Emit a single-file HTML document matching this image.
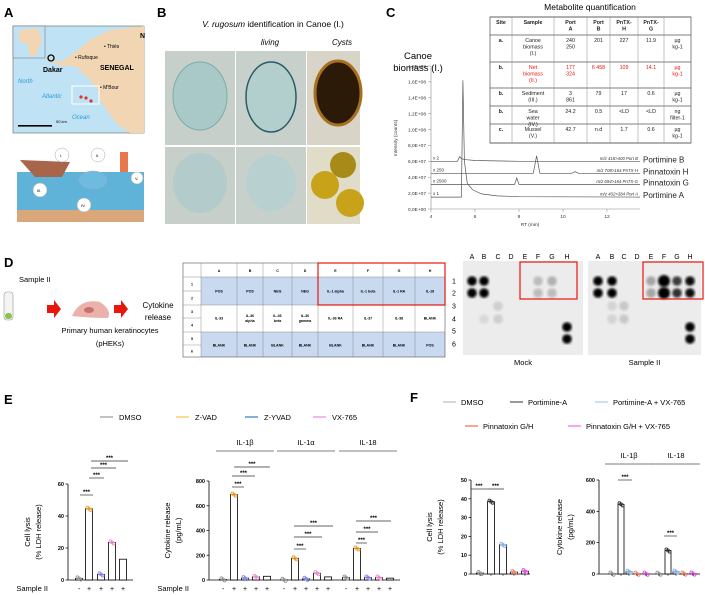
<!DOCTYPE html>
<html><head><meta charset="utf-8">
<style>
html,body{margin:0;padding:0;background:#fff;}
body{width:705px;height:595px;overflow:hidden;position:relative;font-family:"Liberation Sans",sans-serif;}
svg{position:absolute;left:0;top:0;}
text{font-family:"Liberation Sans",sans-serif;}
</style></head>
<body>
<svg id="fig" width="705" height="595" viewBox="0 0 705 595" xmlns="http://www.w3.org/2000/svg">
<g font-weight="bold" font-size="13" fill="#000">
<text x="4" y="17">A</text><text x="157" y="17">B</text><text x="386" y="17">C</text>
<text x="4" y="267">D</text><text x="4" y="404">E</text><text x="410" y="402">F</text>
</g>

<g>
<rect x="13" y="26" width="131" height="107" fill="#bfe3f5" stroke="#666" stroke-width="0.6"/>
<path d="M45,58 L60,62 L72,55 L90,40 L110,30 L144,26 L144,133 L130,133 L118,125 L110,115 L100,100 L98,90 L88,78 L75,66 L62,66 L50,62 Z" fill="#f2d6b3"/>
<rect x="13" y="26" width="32" height="32" fill="#bfe3f5" stroke="#666" stroke-width="0.5"/>
<path d="M20,30 L38,28 L42,40 L36,56 L30,56 L27,44 L18,40 Z" fill="#f2d6b3"/>
<circle cx="51" cy="58" r="3" fill="none" stroke="#000" stroke-width="1.3"/>
<text x="43" y="72" font-size="7" font-weight="bold">Dakar</text>
<text x="75" y="59" font-size="5">• Rufisque</text>
<text x="104" y="48" font-size="5">• Thiès</text>
<text x="100" y="70" font-size="7" font-weight="bold">SENEGAL</text>
<text x="100" y="89" font-size="5">• M'Bour</text>
<text x="18" y="83" font-size="6" fill="#2a9ad6" font-style="italic">North</text>
<text x="42" y="98" font-size="6" fill="#2a9ad6" font-style="italic">Atlantic</text>
<text x="72" y="119" font-size="6" fill="#2a9ad6" font-style="italic">Ocean</text>
<text x="140" y="38" font-size="7" font-weight="bold">N</text>
<rect x="72" y="86" width="27" height="18" fill="none" stroke="#fff" stroke-width="1"/>
<g fill="#d33"><circle cx="81" cy="97" r="1.6"/><circle cx="86" cy="98" r="1.6"/><circle cx="91" cy="101" r="1.6"/></g>
<rect x="18" y="125" width="34" height="1.6" fill="#000"/>
<text x="56" y="123" font-size="4">50 km</text>
</g>
<g>
<rect x="17" y="172" width="127" height="50" fill="#5fb2d8"/>
<rect x="17" y="210" width="127" height="12" fill="#d9a77a"/>
<path d="M20,160 L70,162 L62,177 L35,177 Z" fill="#a8654a"/>
<circle cx="62" cy="155" r="7" fill="#fff" stroke="#aaa" stroke-width="0.5"/><text x="60" y="157" font-size="4">I.</text>
<circle cx="98" cy="155" r="7" fill="#fff" stroke="#aaa" stroke-width="0.5"/><text x="96" y="157" font-size="4">II.</text>
<circle cx="40" cy="190" r="7" fill="#fff" stroke="#aaa" stroke-width="0.5"/><text x="37" y="192" font-size="4">III.</text>
<circle cx="84" cy="205" r="7" fill="#fff" stroke="#aaa" stroke-width="0.5"/><text x="81" y="207" font-size="4">IV.</text>
<circle cx="137" cy="178" r="6" fill="#fff" stroke="#aaa" stroke-width="0.5"/><text x="135" y="180" font-size="4">V.</text>
<rect x="120" y="152" width="8" height="20" fill="#e8774e"/>
<ellipse cx="93" cy="180" rx="14" ry="9" fill="#6fbbe0" stroke="#aaa" stroke-width="0.4"/>
</g>

<g>
<text x="273" y="27" font-size="8.5" text-anchor="middle"><tspan font-style="italic">V. rugosum</tspan> identification in Canoe (I.)</text>
<text x="270" y="45" font-size="8" font-style="italic" text-anchor="middle">living</text>
<text x="342" y="45" font-size="8" font-style="italic" text-anchor="middle">Cysts</text>
<rect x="165" y="51" width="70" height="94" fill="#c6cfca"/>
<rect x="236" y="51" width="70" height="94" fill="#c8d0cc"/>
<rect x="307" y="51" width="53" height="94" fill="#d8d4c8"/>
<rect x="165" y="147" width="70" height="77" fill="#c6cfca"/>
<rect x="236" y="147" width="70" height="77" fill="#c8d0cc"/>
<rect x="307" y="147" width="53" height="77" fill="#e0dcc8"/>
<ellipse cx="200" cy="96" rx="27" ry="34" fill="#a9c9c8" stroke="#7fa9a9"/>
<ellipse cx="271" cy="97" rx="25" ry="35" fill="#b3cfcd" stroke="#2a5a66" stroke-width="1.5"/>
<ellipse cx="338" cy="93" rx="23" ry="32" fill="#2c1a08" stroke="#a6701c" stroke-width="3"/>
<ellipse cx="200" cy="183" rx="27" ry="30" fill="#b3cccb"/>
<ellipse cx="271" cy="183" rx="25" ry="28" fill="#b8d0cf"/>
<circle cx="343" cy="165" r="13" fill="#a88a18"/><circle cx="325" cy="185" r="14" fill="#c8a31a"/><circle cx="350" cy="203" r="14" fill="#c8a31a"/>
</g>

<g>
<text x="590" y="10" font-size="8.5" text-anchor="middle">Metabolite quantification</text>
<g id="ctable" font-size="5.3" text-anchor="middle"></g>
<text x="418" y="59" font-size="9.5" text-anchor="middle">Canoe</text>
<text x="418" y="71" font-size="9.5" text-anchor="middle">biomass (I.)</text>
<g id="chrom"></g>
</g>

<g>
<text x="19" y="282" font-size="7.5">Sample II</text>
<rect x="4" y="292" width="9" height="28" rx="3" fill="#f4f4f4" stroke="#999" stroke-width="0.6"/>
<rect x="5" y="313" width="7" height="6" rx="3" fill="#8bc34a"/>
<path d="M47,305 L54,305 L54,300 L61,309 L54,318 L54,313 L47,313 Z" fill="#e8160c"/>
<path d="M114,305 L121,305 L121,300 L128,309 L121,318 L121,313 L114,313 Z" fill="#e8160c"/>
<path d="M72,316 Q80,298 100,302 Q112,310 108,318 Q90,318 72,316 Z" fill="#ebb2ac"/>
<ellipse cx="89" cy="310" rx="5" ry="3" fill="#c87070"/>
<text x="158" y="308" font-size="8" text-anchor="middle">Cytokine</text>
<text x="158" y="320" font-size="8" text-anchor="middle">release</text>
<text x="110" y="333" font-size="7.5" text-anchor="middle">Primary human keratinocytes</text>
<text x="110" y="346" font-size="7.5" text-anchor="middle">(pHEKs)</text>
<g id="dtable" font-size="3.6" font-weight="bold" text-anchor="middle"></g>
<g id="blots"></g>
</g>

<g id="legendE" font-size="7.5"></g>
<g id="legendF" font-size="7.5"></g>
<g id="charts"></g>
</svg>

<script>
const tableRows = [
 ["Site","Sample","Port A","Port B","PnTX-H","PnTX-G",""],
 ["a.","Canoe biomass (I.)","240 250","201","227","11.9","µg kg-1"],
 ["b.","Net biomass (II.)","177 324","6 458","109","14.1","µg kg-1"],
 ["b.","Sediment (III.)","3 861","79","17","0.6","µg kg-1"],
 ["b.","Sea water (IV.)","24.2","0.5","<LD","<LD","ng filter-1"],
 ["c.","Mussel (V.)","42.7","n.d","1.7","0.6","µg kg-1"]
];
const rtTicks = [4,6,8,10,12];
const intTicks = [0,2e7,4e7,6e7,8e7,1e8,1.2e8,1.4e8,1.6e8,1.8e8];
const intTickLabels = ["0,0E+00","2,0E+07","4,0E+07","6,0E+07","8,0E+07","1,0E+08","1,2E+08","1,4E+08","1,6E+08","1,8E+08"];
const traceNames = ["Portimine B","Pinnatoxin H","Pinnatoxin G","Portimine A"];
const traceMz = ["m/z 418>400 Port B","m/z 708>164 PnTX-H","m/z 694>164 PnTX-G","m/z 402>384 Port A"];
const traceScale = ["x 2","x 250","x 2500","x 1"];
const rtPortB = [4,5.2,5.3,5.4,5.6,6,8,10,13.5];
const valPortB = [6.0e7,6.0e7,6.6e7,6.3e7,6.2e7,6.1e7,6.0e7,6.0e7,6.0e7];
const rtPnH = [4,8.65,8.8,8.95,10.4,10.55,10.7,13.5];
const valPnH = [4.5e7,4.5e7,6.7e7,4.5e7,4.5e7,4.7e7,4.5e7,4.5e7];
const rtPnG = [4,7.8,7.9,8.0,13.5];
const valPnG = [3.1e7,3.1e7,3.9e7,3.1e7,3.1e7];
const rtPortA = [4,5.38,5.45,5.52,5.65,5.9,6.3,7,8,13.5];
const valPortA = [1.5e7,1.5e7,1.62e8,6.0e7,3.2e7,2.4e7,1.9e7,1.65e7,1.55e7,1.5e7];

const lysisE = [1,44.5,3.5,23.5,13];
const il1bE = [5,690,15,25,30];
const il1aE = [2,175,10,55,25];
const il18E = [20,255,20,20,15];
const ticksLysisE = [0,20,40,60];
const ticksCytE = [0,200,400,600,800];
const lysisF = [0.5,38.5,15.5,1,1.5];
const il1bF = [2,445,15,2,2];
const il18F = [2,150,15,3,3];
const ticksLysisF = [0,10,20,30,40,50];
const ticksCytF = [0,200,400,600];
const legendNamesE = ["DMSO","Z-VAD","Z-YVAD","VX-765"];
const legendNamesF = ["DMSO","Portimine-A","Portimine-A + VX-765","Pinnatoxin G/H","Pinnatoxin G/H + VX-765"];

const NS = "http://www.w3.org/2000/svg";
function mk(parent, tag, attrs, txt){
  const el = document.createElementNS(NS, tag);
  for (const k in attrs) el.setAttribute(k, attrs[k]);
  if (txt !== undefined) el.textContent = txt;
  parent.appendChild(el);
  return el;
}

(function(){
  const g = document.getElementById('ctable');
  const ry = [17,35,62,88,106,124,143];
  const bg = mk(g,'rect',{x:490,y:17,width:201,height:126,fill:'#fff',stroke:'#333','stroke-width':0.6});
  
  
  ry.forEach(y=>mk(g,'line',{x1:490,x2:691,y1:y,y2:y,stroke:'#555','stroke-width':0.7}));
  const edges = [490,512,554,587,610,638,664,691];
  edges.slice(1,-1).forEach(x=>mk(g,'line',{x1:x,x2:x,y1:17,y2:143,stroke:'#888','stroke-width':0.5}));
  tableRows.forEach((row,ri)=>{
    const y0 = ry[ri];
    row.forEach((cell,ci)=>{
      const a = edges[ci], b = edges[ci+1];
      let lines = (ci===1||ci===2||ci===6) ? cell.split(' ') : [cell];
      if (ri===0 && ci>=2) lines = cell.replace('-','- ').split(' ');
      const t = mk(g,'text',{x:(a+b)/2,y:y0+7,fill:ri===2&&ci>0?'#e8160c':'#222','font-weight':ri===0||ci===0?'bold':'normal'});
      
      
      lines.forEach((ln,li)=>mk(t,'tspan',{x:(a+b)/2,dy:li?6.5:0},ln));
    });
  });
})();

(function(){
  const g = document.getElementById('chrom');
  const xs = rt => 431 + (rt-4)*22;
  const ys = v => 209 - v*(143/1.8e8);
  mk(g,'line',{x1:431,x2:431,y1:66,y2:209,stroke:'#888','stroke-width':0.6});
  mk(g,'line',{x1:431,x2:640,y1:209,y2:209,stroke:'#888','stroke-width':0.6});
  intTicks.forEach((v,i)=>{
    mk(g,'line',{x1:428,x2:431,y1:ys(v),y2:ys(v),stroke:'#888','stroke-width':0.5});
    const t = mk(g,'text',{x:426,y:ys(v)+1.8,'font-size':4.8,'text-anchor':'end',fill:'#333'},intTickLabels[i]);
    
    
  });
  rtTicks.forEach(r=>{
    mk(g,'line',{x1:xs(r),x2:xs(r),y1:209,y2:212,stroke:'#888','stroke-width':0.5});
    const t = mk(g,'text',{x:xs(r),y:218,'font-size':4.8,'text-anchor':'middle',fill:'#333'},String(r));
    
    
  });
  const xt = mk(g,'text',{x:530,y:226,'font-size':4.8,'text-anchor':'middle',fill:'#333'},'RT (min)');
  
  
  const yt = mk(g,'text',{x:0,y:0,'font-size':4.8,'text-anchor':'middle',fill:'#333',transform:'translate(397,138) rotate(-90)'},'Intensity (counts)');
  
  
  const traces = [[rtPortB,valPortB],[rtPnH,valPnH],[rtPnG,valPnG],[rtPortA,valPortA]];
  traces.forEach((tr,i)=>{
    const [rts,vals] = tr;
    const d = rts.map((r,j)=>(j?'L':'M')+xs(r).toFixed(1)+','+ys(vals[j]).toFixed(1)).join(' ');
    const p = mk(g,'path',{d:d,fill:'none',stroke:'#555','stroke-width':0.7});
    
    
    const base = ys(vals[0]);
    mk(g,'text',{x:433,y:base-2,'font-size':4.5,fill:'#333'},traceScale[i]);
    const mz = mk(g,'text',{x:638,y:base-1.5,'font-size':4.3,'text-anchor':'end',fill:'#333','font-style':'italic'},traceMz[i]);
    
    
    const nm = mk(g,'text',{x:643,y:base+1,'font-size':8,fill:'#222'},traceNames[i]);
    
    
  });
})();

(function(){
  const g = document.getElementById('dtable');
  const cx = [183,201,237,263,292,318,353,383,415,445];
  const ry = [263,277,291,305,318,332,345,357];
  const heads = ["A","B","C","D","E","F","G","H"];
  const r1 = ["POS","POS","NEG","NEG","IL-1 alpha","IL-1 beta","IL-1 RA","IL-18"];
  const r2 = ["IL-33","IL-36 alpha","IL-36 beta","IL-36 gamma","IL-36 RA","IL-37","IL-38","BLANK"];
  const r3 = ["BLANK","BLANK","BLANK","BLANK","BLANK","BLANK","BLANK","POS"];
  mk(g,'rect',{x:201,y:277,width:244,height:28,fill:'#c9d9f0'});
  mk(g,'rect',{x:201,y:332,width:244,height:25,fill:'#c9d9f0'});
  mk(g,'rect',{x:183,y:263,width:262,height:94,fill:'none',stroke:'#555','stroke-width':0.6});
  cx.slice(1,-1).forEach(x=>mk(g,'line',{x1:x,x2:x,y1:263,y2:357,stroke:'#777','stroke-width':0.4}));
  [277,305,332].forEach(y=>mk(g,'line',{x1:183,x2:445,y1:y,y2:y,stroke:'#777','stroke-width':0.4}));
  [291,318,345].forEach(y=>mk(g,'line',{x1:183,x2:201,y1:y,y2:y,stroke:'#777','stroke-width':0.4}));
  for(let r=0;r<6;r++) mk(g,'text',{x:192,y:(ry[r+1]+ry[r+2])/2+1.5},String(r+1));
  heads.forEach((h,i)=>{
    const m=(cx[i+1]+cx[i+2])/2;
    mk(g,'text',{x:m,y:272},h);
    [[r1,291],[r2,318],[r3,345]].forEach(([arr,y])=>{
      const w = arr[i].split(' ');
      if(w.length>1 && arr===r2 && i<4){ mk(g,'text',{x:m,y:y-1},w[0]); mk(g,'text',{x:m,y:y+4},w[1]); }
      else mk(g,'text',{x:m,y:y+1.5},arr[i]);
    });
  });
  const rb = mk(g,'rect',{x:318,y:263,width:127,height:42,fill:'none',stroke:'#e8160c','stroke-width':1.2});
  
  
})();

(function(){
  const g = document.getElementById('blots');
  const defs = mk(g,'defs',{});
  const f = mk(defs,'filter',{id:'blur'}); mk(f,'feGaussianBlur',{stdDeviation:1.3});
  const letters = ["A","B","C","D","E","F","G","H"];
  const blots = [
    {x0:463,x1:583,cols:[472,484,498,511,525,538,552,567],name:'Mock',
     spots:[[0,0,1],[0,1,1],[1,0,1],[1,1,1],[7,4,1],[7,5,1],[5,0,.2],[5,1,.2],[6,0,.25],[6,1,.2],[2,2,.12],[2,3,.12],[1,3,.08]]},
    {x0:588,x1:701,cols:[598,612,624,637,651,664,677,690],name:'Sample II',
     spots:[[0,0,1],[0,1,1],[1,0,1],[1,1,1],[7,4,1],[7,5,1],[5,0,1.2],[5,1,1.2],[6,0,.75],[6,1,.8],[7,0,.95],[7,1,.95],[4,0,.3],[4,1,.3],[2,2,.15],[2,3,.15],[1,2,.1],[1,3,.1]]}
  ];
  const rows=[281,293,306,319,327,339];
  blots.forEach(b=>{
    mk(g,'rect',{x:b.x0,y:261,width:b.x1-b.x0,height:94,fill:'#ececec'});
    b.cols.forEach((c,i)=>mk(g,'text',{x:c,y:259,'font-size':7,'text-anchor':'middle'},letters[i]));
    b.spots.forEach(([c,r,a])=>{
      mk(g,'circle',{cx:b.cols[c],cy:rows[r],r:a>1?6:4.8,fill:'#000',opacity:Math.min(a,1),filter:'url(#blur)'});
    });
    mk(g,'text',{x:(b.x0+b.x1)/2,y:365,'font-size':7.5,'text-anchor':'middle'},b.name);
  });
  ["1","2","3","4","5","6"].forEach((s,i)=>mk(g,'text',{x:452,y:[281,293,306,319,331,344][i]+2.5,'font-size':7},s));
  const b1 = mk(g,'rect',{x:520,y:262,width:57,height:37,fill:'none',stroke:'#e8160c','stroke-width':1.2});
  
  
  const b2 = mk(g,'rect',{x:643,y:262,width:60,height:37,fill:'none',stroke:'#e8160c','stroke-width':1.2});
  
  
})();

(function(){
  const gE = document.getElementById('legendE');
  const colE = ['#999','#f5c542','#3a78c8','#f08ad0'];
  const xsE = [100,176,245,313];
  legendNamesE.forEach((n,i)=>{
    mk(gE,'line',{x1:xsE[i],x2:xsE[i]+13,y1:417,y2:417,stroke:colE[i],'stroke-width':1.2});
    const t = mk(gE,'text',{x:xsE[i]+19,y:420},n);
    
    
  });
  const gF = document.getElementById('legendF');
  const colF = ['#bbb','#555','#a8cdf2','#f06a4a','#f070e8'];
  const pos = [[443,402],[510,402],[595,402],[465,426],[568,426]];
  legendNamesF.forEach((n,i)=>{
    mk(gF,'line',{x1:pos[i][0],x2:pos[i][0]+13,y1:pos[i][1],y2:pos[i][1],stroke:colF[i],'stroke-width':1.2});
    const t = mk(gF,'text',{x:pos[i][0]+18,y:pos[i][1]+3},n);
    
    
  });
})();

const g = document.getElementById('charts');
function chart(o){
  const y = v => o.y0 - (v/o.max)*(o.y0-o.ytop);
  mk(g,'line',{x1:o.ax,x2:o.ax,y1:o.ytop,y2:o.y0,stroke:'#000','stroke-width':0.8});
  mk(g,'line',{x1:o.ax,x2:o.xend,y1:o.y0,y2:o.y0,stroke:'#000','stroke-width':0.8});
  o.ticks.forEach(t=>{
    mk(g,'line',{x1:o.ax-2.5,x2:o.ax,y1:y(t),y2:y(t),stroke:'#000','stroke-width':0.7});
    const tl = mk(g,'text',{x:o.ax-4,y:y(t)+2,'font-size':5.5,'font-weight':'bold','text-anchor':'end'},String(t));
    
    
  });
  o.groups.forEach((grp)=>{
    grp.vals.forEach((v,i)=>{
      const cx = grp.cx[i], w = o.bw;
      const r = mk(g,'rect',{x:cx-w/2,y:y(v),width:w,height:o.y0-y(v),fill:'#fff',stroke:'#000','stroke-width':0.8});
      
      
      const c = o.cols[i];
      [-1.6,0,1.6].forEach((dx,k)=>{
        const dot = mk(g,'circle',{cx:cx+dx,cy:y(v)+(k-1)*1.2,r:1.4,fill:'none',stroke:c,'stroke-width':0.9});
        
        
      });
      if (o.signs) mk(g,'text',{x:cx,y:o.y0+11,'font-size':7,'text-anchor':'middle'},i===0?'-':'+');
      else mk(g,'line',{x1:cx,x2:cx,y1:o.y0,y2:o.y0+2,stroke:'#000','stroke-width':0.5});
    });
    if (grp.name){
      const a=grp.cx[0]-3,b=grp.cx[grp.cx.length-1]+3;
      const h = mk(g,'text',{x:(a+b)/2,y:o.hy,'font-size':7.5,'text-anchor':'middle'},grp.name);
      
      
      mk(g,'line',{x1:a-4,x2:b+4,y1:o.hy+6,y2:o.hy+6,stroke:'#555','stroke-width':0.8});
    }
  });
  const yl = mk(g,'text',{x:0,y:0,'font-size':7.5,'text-anchor':'middle',transform:`translate(${o.ylx},${(o.ytop+o.y0)/2}) rotate(-90)`});
  
  
  mk(yl,'tspan',{x:0,dy:0},o.yl[0]); mk(yl,'tspan',{x:0,dy:11},o.yl[1]);
  if (o.signs){
    const s = mk(g,'text',{x:o.ax-20,y:o.y0+11,'font-size':7.5,'text-anchor':'end'},'Sample II');
    
    
  }
  (o.sig||[]).forEach(([a,b,yy])=>{
    mk(g,'line',{x1:a,x2:b,y1:yy,y2:yy,stroke:'#333','stroke-width':0.7});
    mk(g,'text',{x:(a+b)/2,y:yy-1,'font-size':6,'text-anchor':'middle','font-weight':'bold'},'***');
  });
}
const colsE = ['#999','#f0a030','#8a8af0','#f090d0'];
const colsF = ['#999','#333','#8ab8ee','#f08870','#e050e0'];
chart({ax:68,xend:133,y0:580,ytop:484,max:60,ticks:ticksLysisE,bw:7,cols:colsE,signs:true,ylx:30,yl:['Cell lysis','(% LDH release)'],
  groups:[{cx:[79,89,101,112,123],vals:lysisE}],
  sig:[[80,93,495],[89,104,478],[91,116,468],[91,128,461]]});
chart({ax:209,xend:400,y0:580,ytop:481,max:800,ticks:ticksCytE,bw:7,cols:colsE,signs:true,hy:445,ylx:170,yl:['Cytokine release','(pg/mL)'],
  groups:[{name:'IL-1β',cx:[223,234,245,256,267],vals:il1bE},{name:'IL-1α',cx:[284,295,306,317,328],vals:il1aE},{name:'IL-18',cx:[346,357,368,379,390],vals:il18E}],
  sig:[[232,244,487],[232,255,476],[234,270,467],[294,306,549],[294,322,537],[294,333,526],[356,367,543],[356,378,532],[356,391,521]]});
chart({ax:471,xend:530,y0:574,ytop:480,max:50,ticks:ticksLysisF,bw:7,cols:colsF,ylx:432,yl:['Cell lysis','(% LDH release)'],
  groups:[{cx:[480,491,503,514,525],vals:lysisF}],
  sig:[[471,487,489],[487,504,489]]});
chart({ax:599,xend:700,y0:574,ytop:480,max:600,ticks:ticksCytF,bw:6,cols:colsF,hy:458,ylx:562,yl:['Cytokine release','(pg/mL)'],
  groups:[{name:'IL-1β',cx:[612,621,629,637,646],vals:il1bF},{name:'IL-18',cx:[659,668,676,684,693],vals:il18F}],
  sig:[[618,632,480],[664,677,536]]});
</script>
</body></html>
